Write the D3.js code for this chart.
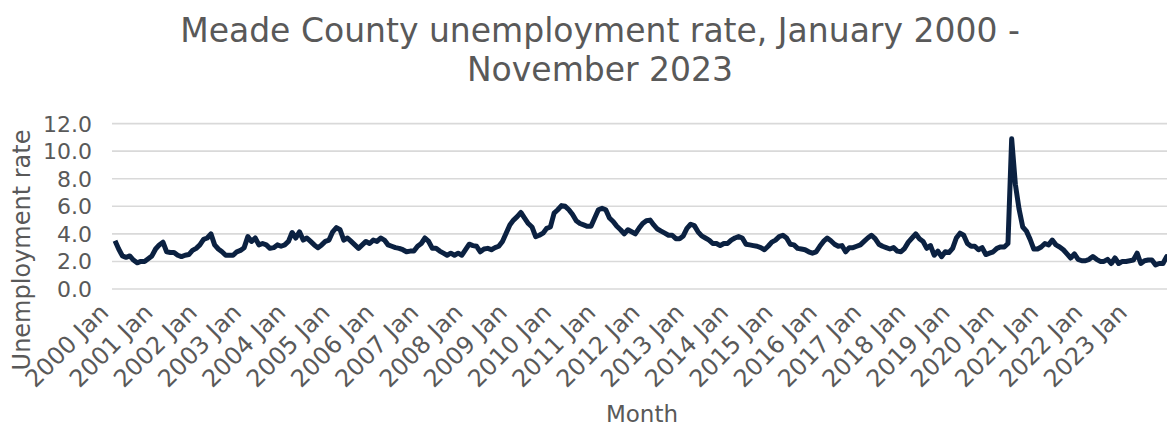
<!DOCTYPE html>
<html>
<head>
<meta charset="utf-8">
<script src="https://cdn.jsdelivr.net/npm/d3@7"></script>
<style>
  body { margin: 0; background: #fff; }
  text { font-family: "DejaVu Sans", sans-serif; fill: #595959; }
</style>
</head>
<body>
<svg class="canvas"></svg>
<script>
// monthly unemployment rate, Jan 2000 - Nov 2023
const rates2000to2003 = [
  3.5, 2.9, 2.4, 2.3, 2.4, 2.1, 1.9, 2.0, 2.0, 2.2, 2.4, 2.9,
  3.2, 3.4, 2.7, 2.65, 2.65, 2.45, 2.35, 2.45, 2.5, 2.8, 2.95, 3.2,
  3.6, 3.7, 4.0, 3.2, 2.9, 2.7, 2.45, 2.45, 2.45, 2.7, 2.8, 3.0,
  3.8, 3.45, 3.7, 3.2, 3.3, 3.2, 2.95, 3.0, 3.2, 3.1, 3.2, 3.45
];
const rates2004to2007 = [
  4.1, 3.7, 4.15, 3.55, 3.7, 3.45, 3.2, 3.0, 3.2, 3.45, 3.55, 4.15,
  4.45, 4.3, 3.55, 3.7, 3.45, 3.2, 2.95, 3.2, 3.45, 3.3, 3.55, 3.45,
  3.7, 3.55, 3.2, 3.1, 3.0, 2.95, 2.85, 2.7, 2.75, 2.75, 3.1, 3.3,
  3.7, 3.45, 2.95, 2.95, 2.75, 2.6, 2.45, 2.6, 2.45, 2.6, 2.45, 2.85
];
const rates2008to2011 = [
  3.25, 3.15, 3.1, 2.7, 2.9, 2.95, 2.85, 3.0, 3.1, 3.45, 4.05, 4.65,
  5.0, 5.25, 5.55, 5.15, 4.75, 4.5, 3.8, 3.9, 4.05, 4.4, 4.5, 5.5,
  5.75, 6.05, 6.0, 5.75, 5.4, 4.95, 4.75, 4.65, 4.55, 4.55, 5.15, 5.75,
  5.85, 5.75, 5.15, 4.9, 4.55, 4.3, 4.0, 4.3, 4.15, 4.0, 4.4, 4.75
];
const rates2012to2015 = [
  4.95, 5.0, 4.65, 4.35, 4.2, 4.05, 3.9, 3.9, 3.65, 3.65, 3.85, 4.4,
  4.7, 4.6, 4.15, 3.85, 3.7, 3.55, 3.3, 3.3, 3.15, 3.3, 3.3, 3.55,
  3.7, 3.8, 3.7, 3.25, 3.2, 3.15, 3.1, 3.0, 2.85, 3.1, 3.4, 3.55,
  3.8, 3.9, 3.7, 3.25, 3.2, 2.95, 2.9, 2.85, 2.7, 2.6, 2.7, 3.1
];
const rates2016to2019 = [
  3.45, 3.7, 3.5, 3.25, 3.1, 3.15, 2.7, 3.0, 3.0, 3.1, 3.2, 3.45,
  3.7, 3.9, 3.65, 3.25, 3.1, 3.0, 2.9, 3.0, 2.75, 2.7, 2.95, 3.4,
  3.7, 4.0, 3.65, 3.45, 2.95, 3.15, 2.45, 2.75, 2.35, 2.7, 2.65, 2.95,
  3.7, 4.05, 3.9, 3.3, 3.1, 3.1, 2.85, 3.0, 2.5, 2.6, 2.7, 2.95
];
const rates2020to2023 = [
  3.05, 3.05, 3.3, 10.9, 7.6, 5.8, 4.5, 4.2, 3.6, 2.9, 2.9, 3.05,
  3.3, 3.2, 3.55, 3.2, 3.05, 2.85, 2.55, 2.25, 2.55, 2.15, 2.05, 2.05,
  2.15, 2.35, 2.15, 2.0, 2.0, 2.15, 1.85, 2.25, 1.85, 2.0, 2.0, 2.05,
  2.1, 2.6, 1.85, 2.05, 2.1, 2.1, 1.75, 1.85, 1.85, 2.35, 2.3
];

const years = d3.range(2000, 2024);
const monthNames = ['Jan', 'Feb', 'Mar', 'Apr', 'May', 'Jun', 'Jul', 'Aug', 'Sep', 'Oct', 'Nov', 'Dec'];
const yTicks = [0, 2, 4, 6, 8, 10, 12];

const rates = [].concat(rates2000to2003, rates2004to2007, rates2008to2011,
  rates2012to2015, rates2016to2019, rates2020to2023);
const months = years.flatMap(y => monthNames.map(m => y + ' ' + m)).slice(0, rates.length);
const data = months.map((m, i) => ({ month: m, rate: rates[i] }));

const width = 1167, height = 429;
const plotLeft = 112;

const svg = d3.select('.canvas')
  .attr('width', width)
  .attr('height', height);

const x = d3.scalePoint()
  .domain(months)
  .range([115, 115 + 3.69 * (months.length - 1)]);

const y = d3.scaleLinear()
  .domain([0, 12])
  .range([289, 123.6]);

// gridlines
svg.append('g')
  .selectAll('line')
  .data(yTicks)
  .join('line')
  .attr('x1', plotLeft)
  .attr('x2', width + 10)
  .attr('y1', d => y(d))
  .attr('y2', d => y(d))
  .attr('stroke', '#d9d9d9')
  .attr('stroke-width', 1.6);

// y tick labels
svg.append('g')
  .selectAll('text')
  .data(yTicks)
  .join('text')
  .attr('x', 92)
  .attr('y', d => y(d))
  .attr('dy', '0.36em')
  .attr('text-anchor', 'end')
  .style('font-size', '22px')
  .text(d => d.toFixed(1));

// x tick labels, one per January
svg.append('g')
  .selectAll('text')
  .data(months.filter(m => m.endsWith('Jan')))
  .join('text')
  .attr('transform', d => `translate(${x(d) - 11},${308}) rotate(-45)`)
  .attr('text-anchor', 'end')
  .attr('dy', '0.35em')
  .style('font-size', '24px')
  .text(d => d);

// line
const line = d3.line()
  .x(d => x(d.month))
  .y(d => y(d.rate));

svg.append('path')
  .datum(data)
  .attr('fill', 'none')
  .attr('stroke', '#0b2141')
  .attr('stroke-width', 5)
  .attr('stroke-linejoin', 'round')
  .attr('d', line);

// titles
svg.append('text')
  .attr('x', 600)
  .attr('y', 42)
  .attr('text-anchor', 'middle')
  .style('font-size', '33px')
  .text('Meade County unemployment rate, January 2000 -');

svg.append('text')
  .attr('x', 600)
  .attr('y', 81)
  .attr('text-anchor', 'middle')
  .style('font-size', '33px')
  .text('November 2023');

svg.append('text')
  .attr('transform', 'translate(30,250) rotate(-90)')
  .attr('text-anchor', 'middle')
  .style('font-size', '24px')
  .text('Unemployment rate');

svg.append('text')
  .attr('x', 642)
  .attr('y', 422)
  .attr('text-anchor', 'middle')
  .style('font-size', '23px')
  .text('Month');
</script>
</body>
</html>
